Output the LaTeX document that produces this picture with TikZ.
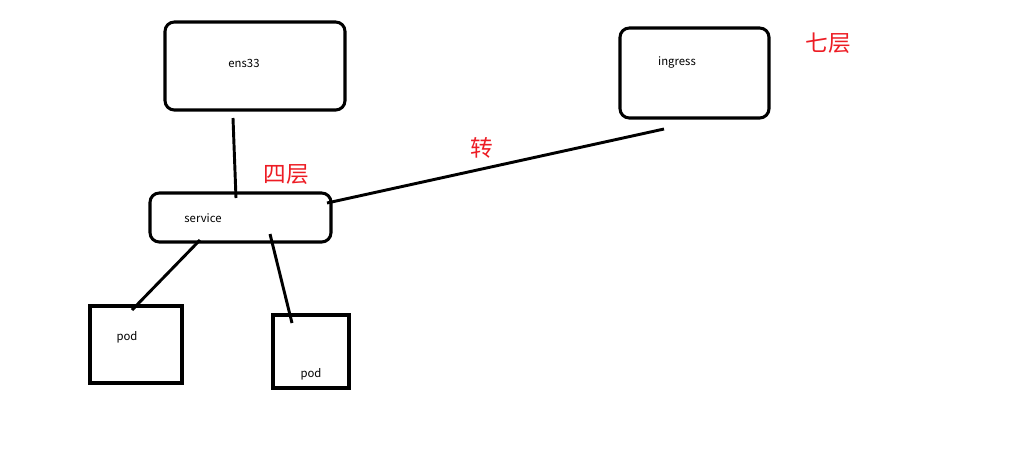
\documentclass[tikz,border=0pt]{standalone}
\usepackage{fontspec}
\setmainfont{Noto Sans CJK SC}
\usetikzlibrary{calc}
\definecolor{paintred}{RGB}{237,28,36}
\tikzset{
  roundbox/.style={draw,line width=2.3pt,rounded corners=7pt,inner sep=0pt,outer sep=0pt},
  podbox/.style={draw,line width=2.4pt,inner sep=0pt,outer sep=0pt},
  boxname/.style={font=\fontsize{8.5}{10}\selectfont,inner sep=0pt},
  layer/.style={font=\fontsize{17}{20}\selectfont,text=paintred,inner sep=0pt},
  link/.style={line width=2.2pt}
}

\begin{document}
\begin{tikzpicture}[x=0.75pt,y=-0.75pt]
    \useasboundingbox (0,0) rectangle (1018,469);
    % boxes
    \node[roundbox,minimum width=135pt,minimum height=66pt] (ens) at (255,66) {};
    \node[roundbox,minimum width=111.75pt,minimum height=67.5pt] (ing) at (694.5,73) {};
    \node[roundbox,minimum width=135.75pt,minimum height=36.75pt] (svc) at (240.5,217.5) {};
    \node[podbox,minimum width=69pt,minimum height=57.75pt] (podA) at (136,344.5) {};
    \node[podbox,minimum width=57pt,minimum height=54.75pt] (podB) at (311,351.5) {};
    % names
    \node[boxname] (ensname) at (244,63) {ens33};
    \node[boxname] (ingname) at (677,63) {ingress};
    \node[boxname] (svcname) at (203,218) {service};
    \node[boxname] (podAname) at (127,337) {pod};
    \node[boxname] (podBname) at (311,374) {pod};
    % layers
    \node[layer] (four) at (286,175) {四层};
    \node[layer] (seven) at (828,43) {七层};
    \node[layer] (turn) at (482,148) {转};
    % ends of the lines
    \coordinate (ensend) at (233,118);
    \coordinate (svctop) at (236,198);
    \coordinate (svcright) at (327,203);
    \coordinate (ingend) at (664,129);
    \coordinate (svcleft) at (200,240);
    \coordinate (podAend) at (132,310);
    \coordinate (svcmid) at (270,234);
    \coordinate (podBend) at (292,323);
    \draw[link] (ensend) -- (svctop);
    \draw[link] (svcright) -- (ingend);
    \draw[link] (svcleft) -- (podAend);
    \draw[link] (svcmid) -- (podBend);
\end{tikzpicture}
\end{document}
